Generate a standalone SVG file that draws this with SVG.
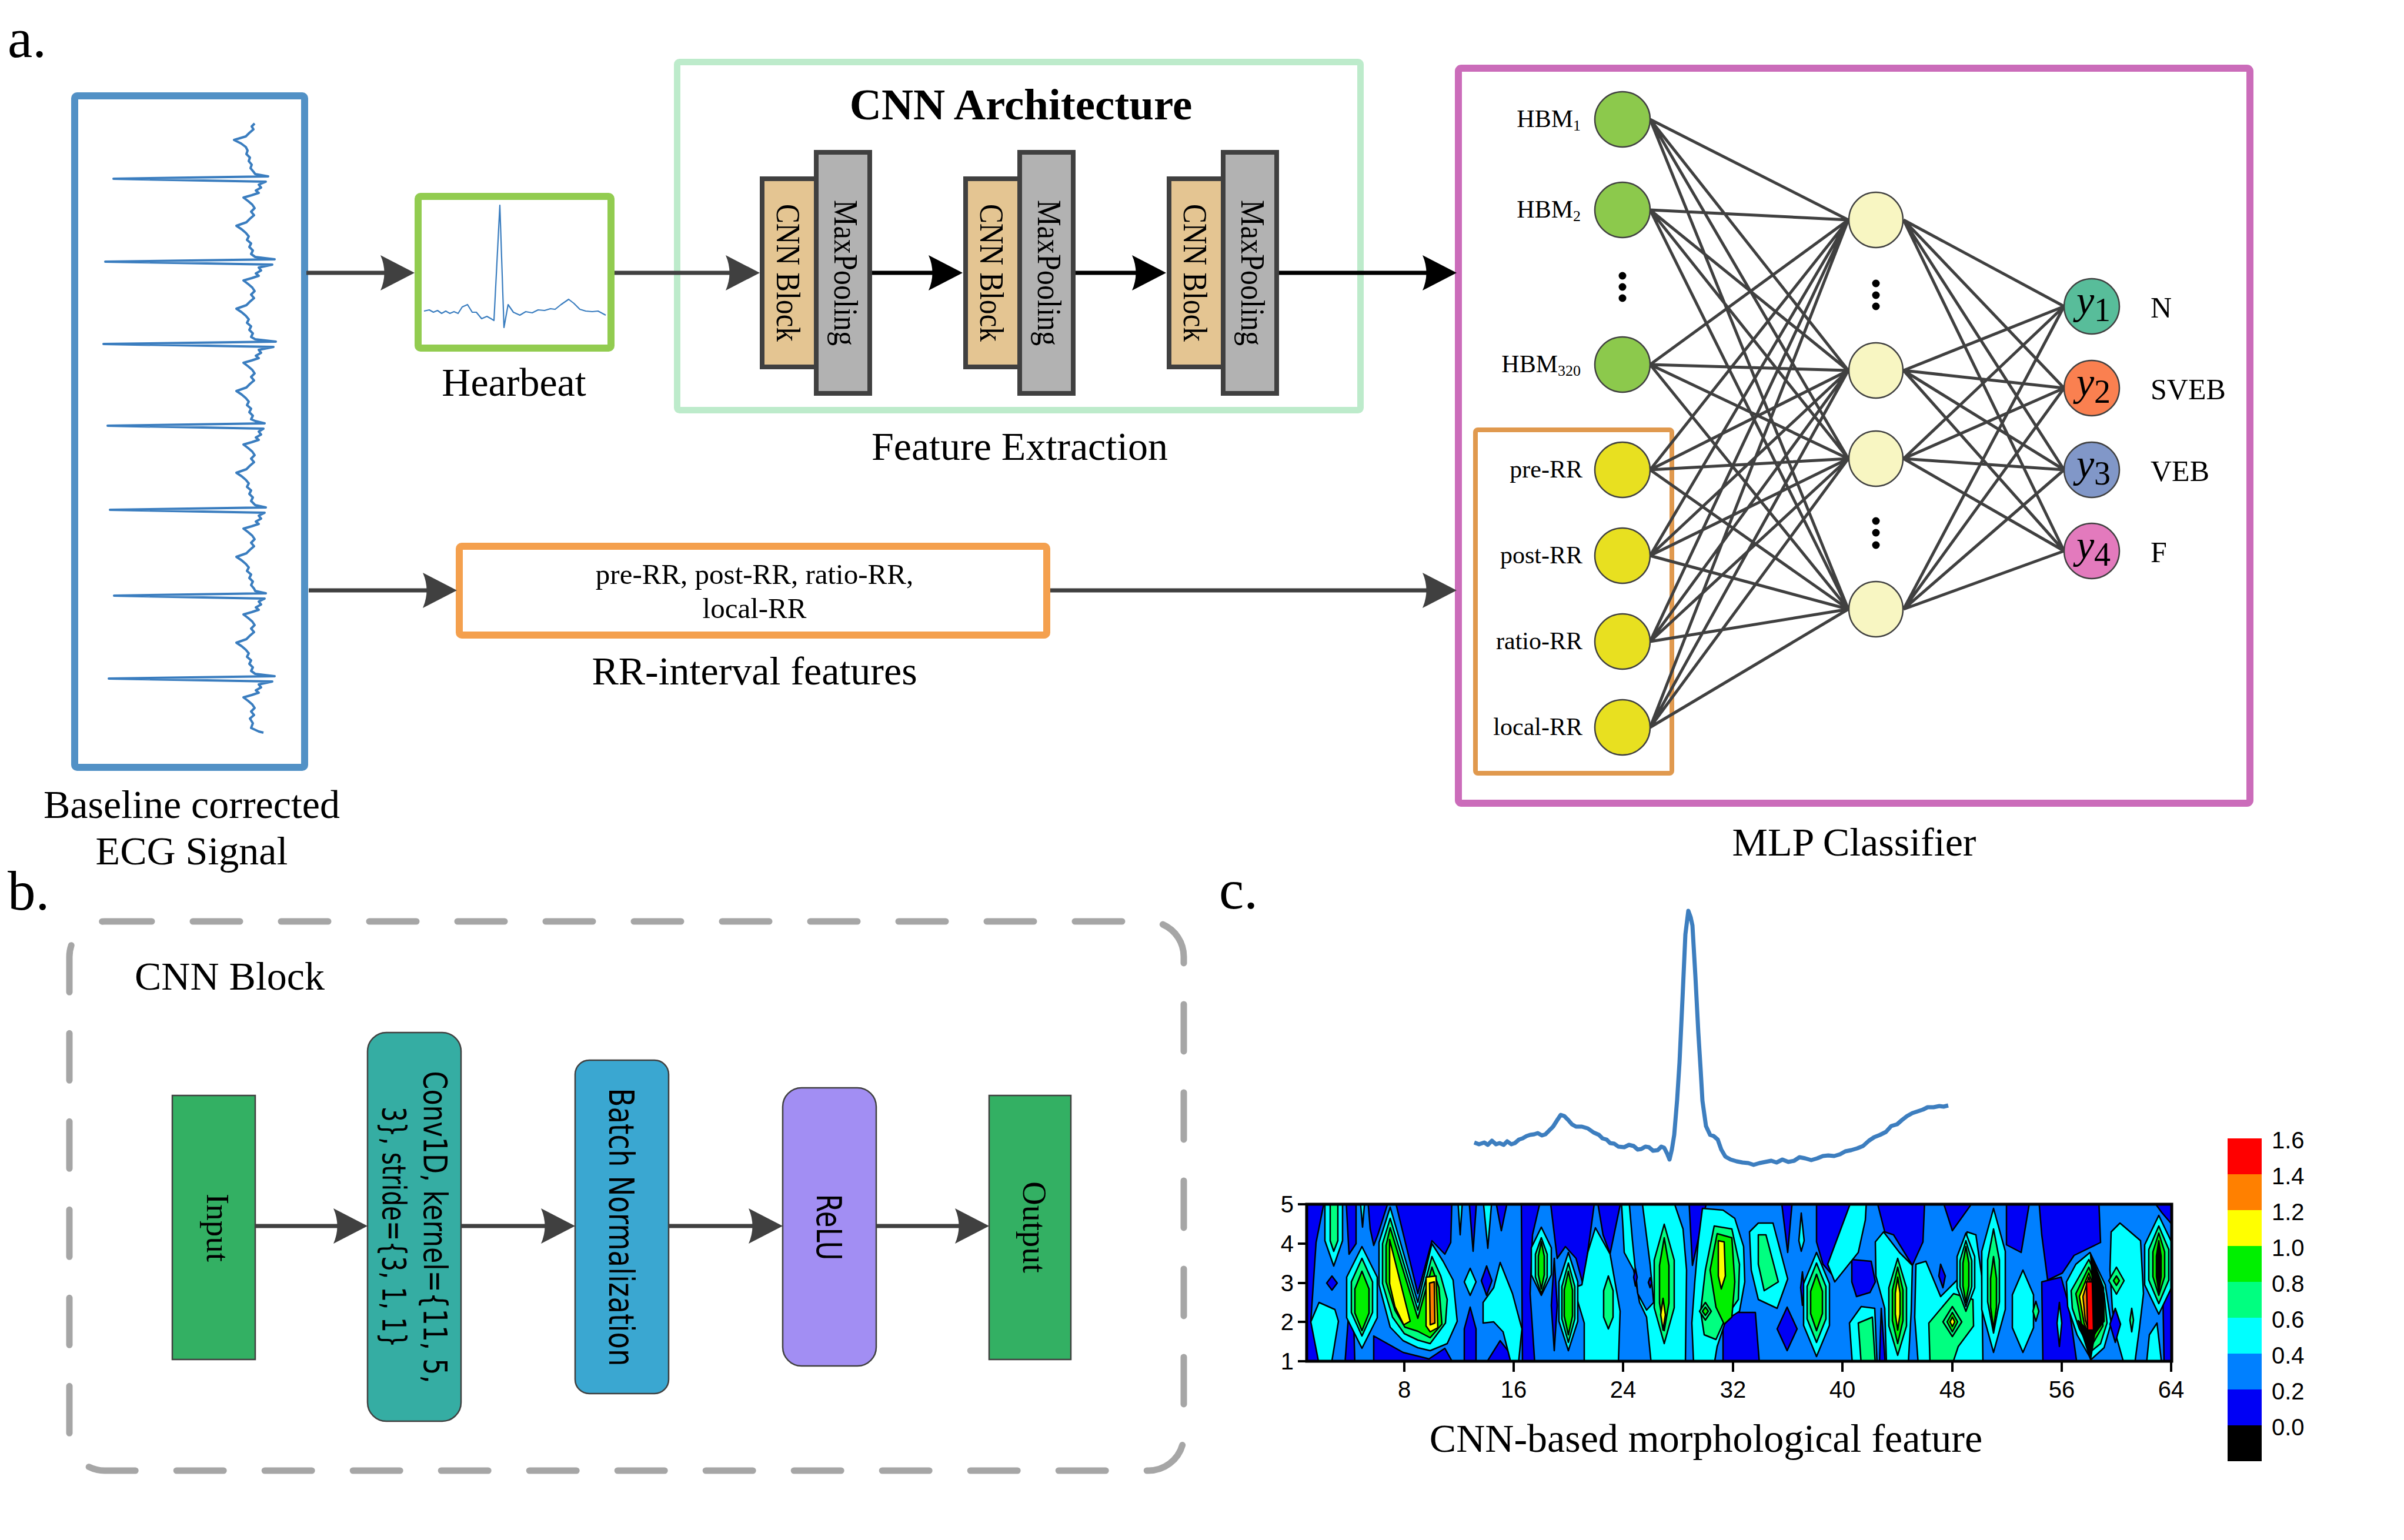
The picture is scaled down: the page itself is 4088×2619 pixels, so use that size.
<svg xmlns="http://www.w3.org/2000/svg" width="4088" height="2619" viewBox="0 0 4088 2619">
<defs>
<style>
.serif{font-family:"Liberation Serif","Times New Roman",serif;fill:#000}
.sans{font-family:"Liberation Sans",Arial,sans-serif;fill:#000}
.geo{font-family:"DejaVu Sans",Verdana,sans-serif;fill:#000}
.ln{stroke:#404040;stroke-width:7;fill:none}
.lk{stroke:#000;stroke-width:7;fill:none}
.edge{stroke:#404040;stroke-width:5;fill:none}
.nd{stroke:#404040;stroke-width:2.5}
.blk{stroke:#404040;stroke-width:8}
.bb{stroke:#404040;stroke-width:2.5}
.c0,.c1,.c2,.c3,.c4,.c5,.c6,.c7,.ck{stroke:#000;stroke-width:2.5;stroke-linejoin:round}
.c0{fill:#0000F5}.c1{fill:#0080FF}.c2{fill:#00FFFF}.c3{fill:#00FF80}.c4{fill:#00F000}.c5{fill:#FFFF00}.c6{fill:#FF8000}.c7{fill:#FF0000}.ck{fill:#000}
</style>
<marker id="ag" markerUnits="userSpaceOnUse" markerWidth="58" markerHeight="60" viewBox="0 0 58 60" refX="42" refY="30" orient="auto"><path d="M0,0 L58,30 L0,60 Q13,30 0,0 Z" fill="#404040"/></marker>
<marker id="ak" markerUnits="userSpaceOnUse" markerWidth="58" markerHeight="60" viewBox="0 0 58 60" refX="42" refY="30" orient="auto"><path d="M0,0 L58,30 L0,60 Q13,30 0,0 Z" fill="#000"/></marker>
<clipPath id="plot"><rect x="2222" y="2048" width="1471" height="268"/></clipPath>
</defs>
<rect width="4088" height="2619" fill="#fff"/>

<text class="serif" x="13" y="97" font-size="95">a.</text>
<text class="serif" x="13" y="1547" font-size="95">b.</text>
<text class="serif" x="2073" y="1545" font-size="95">c.</text>

<g id="ecg-signal">
<rect x="127" y="163" width="391" height="1142" rx="4" fill="none" stroke="#5291C6" stroke-width="12"/>
<polyline fill="none" stroke="#3A7DBF" stroke-width="4" stroke-linejoin="round" points="433,210 428,215 431,220 424,226 418,232 398,238 410,244 418,250 421,256 419,262 425,268 423,274 428,280 426,286 431,292 434,296 456,300 193,304 452,309 440,314 444,319 435,324 440,328 428,332 414,336 422,342 429,348 433,354 427,360 432,366 425,372 419,378 402,384 411,390 418,396 423,402 420,408 427,414 424,420 430,426 427,432 434,437 467,441 179,445 463,450 440,455 444,460 435,465 440,469 428,473 414,477 422,483 429,489 433,495 427,501 432,507 425,513 419,519 402,525 411,531 418,537 423,543 420,549 427,555 424,561 430,567 427,573 434,577 469,581 176,585 465,590 440,595 444,600 435,605 440,609 428,613 414,617 422,623 429,629 433,635 427,641 432,647 425,653 419,659 402,665 411,671 418,677 423,683 420,689 427,695 424,701 430,707 427,713 434,716 450,720 183,724 448,729 440,734 444,739 435,744 440,748 428,752 414,756 422,762 429,768 433,774 427,780 432,786 425,792 419,798 402,804 411,810 418,816 423,822 420,828 427,834 424,840 430,846 427,852 434,859 452,863 187,867 450,872 440,877 444,882 435,887 440,891 428,895 414,899 422,905 429,911 433,917 427,923 432,929 425,935 419,941 402,947 411,953 418,959 423,965 420,971 427,977 424,983 430,989 427,995 432,1001 434,1005 452,1009 194,1013 450,1018 440,1023 444,1028 435,1033 440,1037 428,1041 414,1045 422,1051 429,1057 433,1063 427,1069 432,1075 425,1081 419,1087 402,1093 411,1099 418,1105 423,1111 420,1117 427,1123 424,1129 430,1135 427,1141 434,1146 467,1150 185,1154 463,1159 440,1164 444,1169 435,1174 440,1178 428,1182 414,1186 422,1192 429,1198 433,1204 427,1210 432,1216 425,1222 430,1230 427,1238 440,1244 448,1246"/>
<text class="serif" x="326" y="1391" font-size="68" text-anchor="middle">Baseline corrected</text>
<text class="serif" x="326" y="1470" font-size="68" text-anchor="middle">ECG Signal</text>
</g>

<g id="heartbeat">
<rect x="711" y="334" width="328" height="258" rx="4" fill="none" stroke="#92CC50" stroke-width="12"/>
<polyline fill="none" stroke="#3A7DBF" stroke-width="2.2" stroke-linejoin="round" points="721,529 730,527 737,531 744,528 751,533 758,529 765,533 772,530 779,533 786,522 795,518 803,531 810,531 819,542 828,538 835,542 840,545 850,349 857,557 864,518 873,531 884,536 894,530 905,532 915,527 926,528 936,525 944,526 954,518 967,509 976,516 986,526 996,529 1007,530 1017,529 1030,536"/>
<text class="serif" x="874" y="673" font-size="68" text-anchor="middle">Hearbeat</text>
</g>

<g id="cnn-architecture">
<rect x="1151.5" y="105.5" width="1162" height="592" rx="4" fill="none" stroke="#BDEBCB" stroke-width="11"/>
<text class="serif" x="1736" y="203" font-size="75" font-weight="bold" text-anchor="middle">CNN Architecture</text>
<text class="serif" x="1734" y="782" font-size="68" text-anchor="middle">Feature Extraction</text>
</g>
<g id="cnn-pair-1">
<rect class="blk" x="1296" y="304" width="92" height="320" fill="#E4C592"/>
<rect class="blk" x="1388" y="259" width="91" height="410" fill="#B2B2B2"/>
<text class="serif" font-size="57" text-anchor="middle" textLength="234" lengthAdjust="spacingAndGlyphs" transform="translate(1339,464) rotate(90)" y="18">CNN Block</text>
<text class="serif" font-size="57" text-anchor="middle" textLength="248" lengthAdjust="spacingAndGlyphs" transform="translate(1434,464) rotate(90)" y="15">MaxPooling</text>
</g>
<g id="cnn-pair-2">
<rect class="blk" x="1642" y="304" width="92" height="320" fill="#E4C592"/>
<rect class="blk" x="1734" y="259" width="91" height="410" fill="#B2B2B2"/>
<text class="serif" font-size="57" text-anchor="middle" textLength="234" lengthAdjust="spacingAndGlyphs" transform="translate(1685,464) rotate(90)" y="18">CNN Block</text>
<text class="serif" font-size="57" text-anchor="middle" textLength="248" lengthAdjust="spacingAndGlyphs" transform="translate(1780,464) rotate(90)" y="15">MaxPooling</text>
</g>
<g id="cnn-pair-3">
<rect class="blk" x="1988" y="304" width="92" height="320" fill="#E4C592"/>
<rect class="blk" x="2080" y="259" width="91" height="410" fill="#B2B2B2"/>
<text class="serif" font-size="57" text-anchor="middle" textLength="234" lengthAdjust="spacingAndGlyphs" transform="translate(2031,464) rotate(90)" y="18">CNN Block</text>
<text class="serif" font-size="57" text-anchor="middle" textLength="248" lengthAdjust="spacingAndGlyphs" transform="translate(2126,464) rotate(90)" y="15">MaxPooling</text>
</g>

<g id="rr-features">
<rect x="781" y="929" width="999" height="151" rx="4" fill="none" stroke="#F4A04E" stroke-width="12"/>
<text class="serif" x="1283" y="993" font-size="49" text-anchor="middle">pre-RR, post-RR, ratio-RR,</text>
<text class="serif" x="1283" y="1051" font-size="49" text-anchor="middle">local-RR</text>
<text class="serif" x="1283" y="1164" font-size="68" text-anchor="middle">RR-interval features</text>
</g>

<g id="mlp-classifier">
<rect x="2480" y="116" width="1346" height="1250" rx="5" fill="none" stroke="#CB6CBA" stroke-width="12"/>
<rect x="2509" y="731" width="334" height="584" rx="4" fill="none" stroke="#E0994E" stroke-width="8"/>
<text class="serif" x="3153" y="1455" font-size="68" text-anchor="middle">MLP Classifier</text>
</g>

<g id="connectors">
<line class="ln" x1="521" y1="464" x2="689" y2="464" marker-end="url(#ag)"/>
<line class="ln" x1="1045" y1="464" x2="1276" y2="464" marker-end="url(#ag)"/>
<line class="lk" x1="1483" y1="464" x2="1621" y2="464" marker-end="url(#ak)"/>
<line class="lk" x1="1829" y1="464" x2="1967" y2="464" marker-end="url(#ak)"/>
<line class="lk" x1="2175" y1="464" x2="2461" y2="464" marker-end="url(#ak)"/>
<line class="ln" x1="525" y1="1004" x2="761" y2="1004" marker-end="url(#ag)"/>
<line class="ln" x1="1786" y1="1004" x2="2461" y2="1004" marker-end="url(#ag)"/>
<line class="ln" x1="434" y1="2085" x2="609" y2="2085" marker-end="url(#ag)"/>
<line class="ln" x1="784" y1="2085" x2="962" y2="2085" marker-end="url(#ag)"/>
<line class="ln" x1="1137" y1="2085" x2="1315" y2="2085" marker-end="url(#ag)"/>
<line class="ln" x1="1490" y1="2085" x2="1666" y2="2085" marker-end="url(#ag)"/>
<path class="edge" d="M2806,203 L3143,374 M2806,203 L3143,630 M2806,203 L3143,780 M2806,203 L3143,1036
M2806,357 L3143,374 M2806,357 L3143,630 M2806,357 L3143,780 M2806,357 L3143,1036
M2806,620 L3143,374 M2806,620 L3143,630 M2806,620 L3143,780 M2806,620 L3143,1036
M2806,799 L3143,374 M2806,799 L3143,630 M2806,799 L3143,780 M2806,799 L3143,1036
M2806,945 L3143,374 M2806,945 L3143,630 M2806,945 L3143,780 M2806,945 L3143,1036
M2806,1091 L3143,374 M2806,1091 L3143,630 M2806,1091 L3143,780 M2806,1091 L3143,1036
M2806,1237 L3143,374 M2806,1237 L3143,630 M2806,1237 L3143,780 M2806,1237 L3143,1036
M3237,374 L3510,521 M3237,374 L3510,660 M3237,374 L3510,799 M3237,374 L3510,937
M3237,630 L3510,521 M3237,630 L3510,660 M3237,630 L3510,799 M3237,630 L3510,937
M3237,780 L3510,521 M3237,780 L3510,660 M3237,780 L3510,799 M3237,780 L3510,937
M3237,1036 L3510,521 M3237,1036 L3510,660 M3237,1036 L3510,799 M3237,1036 L3510,937"/>
</g>

<g id="input-nodes">
<circle class="nd" cx="2759" cy="203" r="47" fill="#8CC94C"/>
<circle class="nd" cx="2759" cy="357" r="47" fill="#8CC94C"/>
<circle cx="2759" cy="469" r="6.5" fill="#000"/><circle cx="2759" cy="488" r="6.5" fill="#000"/><circle cx="2759" cy="507" r="6.5" fill="#000"/>
<circle class="nd" cx="2759" cy="620" r="47" fill="#8CC94C"/>
<circle class="nd" cx="2759" cy="799" r="47" fill="#E8E020"/>
<circle class="nd" cx="2759" cy="945" r="47" fill="#E8E020"/>
<circle class="nd" cx="2759" cy="1091" r="47" fill="#E8E020"/>
<circle class="nd" cx="2759" cy="1237" r="47" fill="#E8E020"/>
<text class="serif" x="2688" y="216" font-size="42" text-anchor="end">HBM<tspan font-size="26" dy="6">1</tspan></text>
<text class="serif" x="2688" y="370" font-size="42" text-anchor="end">HBM<tspan font-size="26" dy="6">2</tspan></text>
<text class="serif" x="2688" y="633" font-size="42" text-anchor="end">HBM<tspan font-size="26" dy="6">320</tspan></text>
<text class="serif" x="2691" y="812" font-size="42" text-anchor="end">pre-RR</text>
<text class="serif" x="2691" y="958" font-size="42" text-anchor="end">post-RR</text>
<text class="serif" x="2691" y="1104" font-size="42" text-anchor="end">ratio-RR</text>
<text class="serif" x="2691" y="1250" font-size="42" text-anchor="end">local-RR</text>
</g>
<g id="hidden-nodes">
<ellipse class="nd" cx="3190" cy="374" rx="46" ry="47" fill="#F8F6C2"/>
<circle cx="3190" cy="482" r="6.5" fill="#000"/><circle cx="3190" cy="502" r="6.5" fill="#000"/><circle cx="3190" cy="521" r="6.5" fill="#000"/>
<ellipse class="nd" cx="3190" cy="630" rx="46" ry="47" fill="#F8F6C2"/>
<ellipse class="nd" cx="3190" cy="780" rx="46" ry="47" fill="#F8F6C2"/>
<circle cx="3190" cy="886" r="6.5" fill="#000"/><circle cx="3190" cy="906" r="6.5" fill="#000"/><circle cx="3190" cy="927" r="6.5" fill="#000"/>
<ellipse class="nd" cx="3190" cy="1036" rx="46" ry="47" fill="#F8F6C2"/>
</g>
<g id="output-nodes">
<circle class="nd" cx="3557" cy="521" r="47" fill="#58BD9A"/>
<circle class="nd" cx="3557" cy="660" r="47" fill="#FA8050"/>
<circle class="nd" cx="3557" cy="799" r="47" fill="#8197C8"/>
<circle class="nd" cx="3557" cy="937" r="47" fill="#E37ABD"/>
<text class="serif" x="3560" y="534" text-anchor="middle"><tspan font-size="68" font-style="italic">y</tspan><tspan font-size="56" dy="12">1</tspan></text>
<text class="serif" x="3560" y="673" text-anchor="middle"><tspan font-size="68" font-style="italic">y</tspan><tspan font-size="56" dy="12">2</tspan></text>
<text class="serif" x="3560" y="812" text-anchor="middle"><tspan font-size="68" font-style="italic">y</tspan><tspan font-size="56" dy="12">3</tspan></text>
<text class="serif" x="3560" y="950" text-anchor="middle"><tspan font-size="68" font-style="italic">y</tspan><tspan font-size="56" dy="12">4</tspan></text>
<text class="serif" x="3657" y="540" font-size="50">N</text>
<text class="serif" x="3657" y="679" font-size="50">SVEB</text>
<text class="serif" x="3657" y="818" font-size="50">VEB</text>
<text class="serif" x="3657" y="956" font-size="50">F</text>
</g>

<g id="cnn-block-detail">
<rect x="118" y="1567" width="1895" height="934" rx="60" fill="none" stroke="#A6A6A6" stroke-width="11" stroke-dasharray="80 70" stroke-linecap="round"/>
<text class="serif" x="229" y="1683" font-size="68">CNN Block</text>
</g>
<g id="b-input">
<rect class="bb" x="293" y="1863" width="141" height="449" fill="#33B063"/>
<text class="serif" font-size="55" text-anchor="middle" transform="translate(363,2088) rotate(90)" y="11">Input</text>
</g>
<g id="b-conv">
<rect class="bb" x="625" y="1756" width="159" height="661" rx="32" fill="#35ADA3"/>
<text class="geo" font-size="56" text-anchor="middle" textLength="531" lengthAdjust="spacingAndGlyphs" transform="translate(704,2087) rotate(90)" y="-17">Conv1D, kernel={11, 5,</text>
<text class="geo" font-size="56" text-anchor="middle" textLength="410" lengthAdjust="spacingAndGlyphs" transform="translate(704,2087) rotate(90)" y="53">3}, stride={3, 1, 1}</text>
</g>
<g id="b-batchnorm">
<rect class="bb" x="978" y="1803" width="159" height="567" rx="24" fill="#3AA7D1"/>
<text class="geo" font-size="58" text-anchor="middle" textLength="473" lengthAdjust="spacingAndGlyphs" transform="translate(1057,2087) rotate(90)" y="21">Batch Normalization</text>
</g>
<g id="b-relu">
<rect class="bb" x="1331" y="1850" width="159" height="473" rx="32" fill="#A28EF3"/>
<text class="geo" font-size="58" text-anchor="middle" textLength="113" lengthAdjust="spacingAndGlyphs" transform="translate(1410,2087) rotate(90)" y="21">ReLU</text>
</g>
<g id="b-output">
<rect class="bb" x="1682" y="1863" width="139" height="449" fill="#33B063"/>
<text class="serif" font-size="56" text-anchor="middle" transform="translate(1751,2087) rotate(90)" y="11">Output</text>
</g>

<g id="c-heartbeat">
<polyline fill="none" stroke="#3D7EBF" stroke-width="7" stroke-linejoin="round" points="2507,1943 2515,1946 2524,1943 2530,1947 2537,1940 2544,1946 2550,1944 2557,1947 2563,1941 2570,1946 2576,1944 2583,1938 2589,1936 2596,1932 2602,1930 2609,1929 2615,1927 2622,1931 2628,1929 2635,1922 2641,1916 2648,1905 2654,1896 2660,1898 2667,1905 2673,1912 2680,1916 2690,1916 2700,1919 2710,1926 2719,1930 2725,1936 2732,1938 2738,1944 2745,1945 2752,1950 2762,1951 2770,1947 2778,1949 2785,1955 2791,1954 2798,1950 2804,1951 2811,1957 2819,1956 2825,1950 2830,1952 2835,1962 2839,1972 2843,1955 2847,1930 2852,1870 2856,1807 2861,1700 2866,1589 2871,1549 2875,1560 2878,1574 2883,1660 2888,1756 2892,1820 2895,1872 2901,1915 2908,1930 2914,1932 2921,1938 2927,1955 2934,1967 2943,1972 2953,1975 2963,1977 2973,1978 2982,1981 2992,1978 3002,1976 3012,1974 3021,1977 3031,1972 3041,1976 3051,1974 3060,1968 3070,1970 3080,1973 3090,1970 3100,1966 3109,1965 3119,1966 3129,1963 3138,1958 3148,1956 3158,1953 3168,1949 3178,1940 3187,1934 3197,1930 3207,1925 3216,1915 3226,1912 3234,1905 3243,1898 3252,1893 3261,1890 3270,1887 3278,1883 3288,1883 3298,1881 3305,1882 3313,1880"/>
</g>
<g id="c-contour">
<g clip-path="url(#plot)">
<rect x="2222" y="2048" width="1471" height="268" fill="#0080FF"/>
<polygon class="c0" points="2210,2048 2251,2048 2238,2113 2229,2248 2260,2320 2210,2320"/>
<polygon class="c0" points="2265,2170 2274,2182 2265,2194 2256,2182"/>
<polygon class="c0" points="2289,2040 2306,2040 2306,2115 2294,2133"/>
<polygon class="c0" points="2326,2040 2362,2040 2343,2100 2336,2118 2330,2090"/>
<polygon class="c0" points="2372,2040 2469,2040 2467,2113 2457,2133 2435,2110 2411,2200"/>
<polygon class="c0" points="2336,2272 2386,2300 2430,2311 2457,2293 2472,2320 2336,2320"/>
<polygon class="c0" points="2287,2320 2294,2225 2302,2250 2304,2320"/>
<polygon class="c0" points="2498,2040 2511,2040 2505,2128"/>
<polygon class="c0" points="2543,2040 2564,2040 2553,2093"/>
<polygon class="c0" points="2528,2153 2537,2178 2528,2203 2519,2178"/>
<polygon class="c0" points="2500,2223 2510,2260 2510,2320 2490,2320 2490,2260"/>
<polygon class="c0" points="2551,2280 2582,2320 2526,2320"/>
<polygon class="c0" points="2587,2040 2620,2040 2606,2100 2602,2200 2610,2320 2589,2320"/>
<polygon class="c0" points="2643,2140 2648,2220 2643,2297 2638,2220"/>
<polygon class="c0" points="2636,2040 2712,2040 2704,2100 2692,2185 2680,2140 2662,2120 2648,2140"/>
<polygon class="c0" points="2716,2040 2757,2040 2738,2132 2726,2100"/>
<polygon class="c0" points="2872,2040 2903,2040 2878,2152"/>
<polygon class="c0" points="2930,2232 2985,2232 2992,2320 2930,2320"/>
<polygon class="c0" points="3029,2040 3048,2040 3040,2130"/>
<polygon class="c0" points="3039,2223 3056,2260 3039,2297 3022,2260"/>
<polygon class="c0" points="3089,2040 3151,2040 3149,2107 3119,2172 3100,2150 3089,2112"/>
<polygon class="c0" points="3149,2142 3182,2145 3189,2180 3180,2198 3157,2205 3149,2180"/>
<polygon class="c0" points="3191,2040 3273,2040 3270,2112 3252,2152 3220,2100 3205,2095"/>
<polygon class="c0" points="3199,2225 3206,2320 3196,2320"/>
<polygon class="c0" points="3300,2150 3308,2170 3304,2190 3297,2170"/>
<polygon class="c0" points="3303,2040 3358,2040 3320,2093"/>
<polygon class="c0" points="3412,2040 3452,2040 3437,2130 3412,2117"/>
<polygon class="c0" points="3467,2040 3569,2040 3572,2113 3527,2135 3507,2165 3482,2177 3472,2100"/>
<polygon class="c0" points="3472,2180 3505,2172 3518,2220 3532,2320 3474,2320"/>
<polygon class="c0" points="3660,2040 3700,2040 3700,2090 3676,2062"/>
<polygon class="c0" points="3678,2200 3700,2190 3700,2320 3680,2320"/>
<polygon class="c2" points="2253,2040 2283,2040 2283,2110 2268,2153 2253,2110"/>
<polygon class="c3" points="2262,2040 2275,2040 2275,2110 2268,2128 2262,2110"/>
<polygon class="c2" points="2243,2215 2270,2227 2276,2247 2264,2320 2243,2320 2229,2248"/>
<polygon class="c2" points="2316,2120 2342,2172 2342,2241 2316,2293 2290,2241 2290,2172"/>
<polygon class="c3" points="2316,2140 2334,2180 2334,2232 2316,2272 2298,2232 2298,2180"/>
<polygon class="c4" points="2316,2162 2328,2192 2328,2233 2316,2263 2304,2233 2304,2192"/>
<polygon class="c2" points="2313,2040 2321,2040 2317,2087"/>
<polygon class="c2" points="2364,2053 2411,2215 2435,2115 2454,2145 2471,2177 2478,2247 2461,2285 2432,2297 2411,2292 2386,2280 2364,2257 2345,2185 2345,2113"/>
<polygon class="c3" points="2364,2072 2411,2228 2435,2137 2450,2170 2461,2210 2458,2250 2432,2285 2411,2279 2388,2268 2368,2240 2351,2183 2351,2115"/>
<polygon class="c4" points="2364,2088 2411,2242 2435,2155 2447,2190 2452,2252 2432,2275 2411,2264 2389,2257 2372,2228 2357,2180 2357,2118"/>
<polygon class="c5" points="2363,2108 2398,2247 2387,2253 2372,2222 2363,2183"/>
<polygon class="c5" points="2425,2172 2442,2170 2445,2258 2432,2265 2425,2255"/>
<polygon class="c6" points="2431,2182 2439,2180 2440,2250 2432,2253"/>
<polygon class="c2" points="2479,2040 2487,2040 2483,2100"/>
<polygon class="c2" points="2522,2040 2537,2040 2530,2123"/>
<polygon class="c2" points="2500,2157 2510,2180 2500,2203 2490,2180"/>
<polygon class="c2" points="2551,2147 2572,2200 2588,2260 2582,2320 2570,2320 2556,2265 2540,2248 2522,2250 2522,2215 2540,2190"/>
<polygon class="c2" points="2621,2087 2638,2122 2638,2168 2621,2203 2604,2168 2604,2122"/>
<polygon class="c3" points="2621,2105 2631,2133 2631,2172 2621,2200 2611,2172 2611,2133"/>
<polygon class="c4" points="2621,2112 2626,2136 2626,2168 2621,2192 2616,2168 2616,2136"/>
<polygon class="c2" points="2713,2088 2738,2133 2755,2230 2752,2320 2694,2320 2694,2250 2676,2190 2690,2185 2700,2130"/>
<polygon class="c2" points="2667,2130 2683,2180 2683,2247 2667,2297 2651,2247 2651,2180"/>
<polygon class="c3" points="2667,2148 2678,2188 2678,2243 2667,2283 2656,2243 2656,2188"/>
<polygon class="c4" points="2667,2162 2674,2194 2674,2238 2667,2270 2660,2238 2660,2194"/>
<polygon class="c3" points="2735,2170 2743,2195 2743,2240 2735,2260 2727,2240 2727,2195"/>
<polygon class="c2" points="2757,2040 2845,2040 2862,2090 2868,2160 2866,2320 2808,2320 2800,2240 2788,2215 2778,2160 2762,2130 2760,2090"/>
<polygon class="c1" points="2770,2040 2792,2040 2806,2150 2812,2215 2800,2228 2785,2200 2776,2110"/>
<polygon class="c0" points="2781,2157 2784,2172 2781,2187 2778,2172"/>
<polygon class="c0" points="2806,2173 2809,2181 2806,2190 2803,2181"/>
<polygon class="c3" points="2830,2082 2847,2143 2847,2224 2830,2285 2813,2224 2813,2143"/>
<polygon class="c4" points="2830,2105 2838,2152 2838,2216 2830,2263 2822,2216 2822,2152"/>
<polygon class="c5" points="2828,2208 2832,2236 2828,2262 2824,2236"/>
<polygon class="c2" points="2895,2055 2930,2058 2950,2072 2965,2120 2967,2180 2958,2230 2935,2245 2920,2290 2915,2320 2880,2320 2877,2250 2882,2180 2888,2110"/>
<polygon class="c3" points="2915,2085 2945,2090 2958,2150 2956,2210 2935,2240 2918,2278 2898,2270 2892,2230 2900,2160"/>
<polygon class="c4" points="2920,2098 2945,2105 2950,2180 2945,2240 2932,2252 2918,2223 2908,2160"/>
<polygon class="c5" points="2922,2110 2932,2112 2934,2170 2927,2192 2922,2170"/>
<polygon class="c3" points="2900,2215 2910,2230 2900,2245 2890,2230"/>
<polygon class="c4" points="2900,2223 2905,2230 2900,2237 2895,2230"/>
<polygon class="c2" points="2975,2095 2990,2080 3015,2080 3040,2175 3022,2225 2990,2210 2978,2160"/>
<polygon class="c3" points="2990,2100 3003,2100 3024,2180 3000,2195 2990,2150"/>
<polygon class="c2" points="3063,2063 3068,2110 3063,2128 3059,2110"/>
<polygon class="c0" points="3065,2163 3068,2190 3065,2220 3062,2190"/>
<polygon class="c2" points="3149,2040 3174,2040 3172,2075 3160,2130 3120,2180 3108,2150"/>
<polygon class="c2" points="3089,2130 3111,2183 3111,2254 3089,2307 3067,2254 3067,2183"/>
<polygon class="c3" points="3089,2148 3105,2188 3105,2243 3089,2283 3073,2243 3073,2188"/>
<polygon class="c4" points="3089,2167 3099,2196 3099,2234 3089,2263 3079,2234 3079,2196"/>
<polygon class="c2" points="3189,2112 3203,2095 3230,2130 3252,2152 3250,2230 3245,2320 3208,2320 3205,2225 3190,2170"/>
<polygon class="c3" points="3227,2140 3242,2190 3242,2255 3227,2305 3212,2255 3212,2190"/>
<polygon class="c4" points="3227,2155 3236,2194 3236,2246 3227,2285 3218,2246 3218,2194"/>
<polygon class="c5" points="3227,2172 3231,2199 3231,2235 3227,2262 3223,2235 3223,2199"/>
<polygon class="c2" points="3145,2250 3165,2222 3188,2225 3192,2320 3150,2320"/>
<polygon class="c3" points="3160,2250 3184,2240 3189,2320 3165,2320"/>
<polygon class="c2" points="3258,2150 3275,2145 3300,2205 3330,2175 3345,2095 3360,2100 3370,2170 3372,2320 3262,2320 3256,2240"/>
<polygon class="c3" points="3280,2250 3322,2200 3355,2210 3356,2255 3330,2290 3320,2320 3282,2320"/>
<polygon class="c3" points="3320,2222 3336,2248 3320,2273 3304,2248"/>
<polygon class="c4" points="3320,2232 3329,2248 3320,2265 3311,2248"/>
<polygon class="c5" points="3320,2240 3324,2248 3320,2256 3316,2248"/>
<polygon class="c2" points="3343,2097 3358,2137 3358,2190 3343,2230 3328,2190 3328,2137"/>
<polygon class="c3" points="3343,2110 3353,2144 3353,2188 3343,2222 3333,2188 3333,2144"/>
<polygon class="c4" points="3343,2120 3348,2148 3348,2187 3343,2215 3338,2187 3338,2148"/>
<polygon class="c2" points="3390,2055 3410,2128 3410,2227 3390,2300 3370,2227 3370,2128"/>
<polygon class="c3" points="3390,2090 3400,2143 3400,2214 3390,2267 3380,2214 3380,2143"/>
<polygon class="c4" points="3390,2137 3395,2174 3395,2223 3390,2260 3385,2223 3385,2174"/>
<polygon class="c2" points="3440,2160 3458,2202 3458,2258 3440,2300 3422,2258 3422,2202"/>
<polygon class="c3" points="3462,2213 3467,2230 3462,2247 3457,2230"/>
<polygon class="c2" points="3502,2215 3506,2250 3502,2290 3498,2250"/>
<polygon class="c2" points="3514,2180 3530,2150 3554,2130 3580,2185 3590,2250 3578,2292 3556,2312 3532,2270 3516,2222"/>
<polygon class="c3" points="3522,2195 3552,2142 3578,2200 3583,2250 3572,2285 3556,2298 3536,2260 3524,2225"/>
<polygon class="c4" points="3530,2200 3552,2155 3574,2210 3576,2255 3556,2290 3540,2255"/>
<polygon class="c5" points="3536,2205 3552,2165 3570,2215 3570,2255 3556,2280 3544,2250"/>
<polygon class="c6" points="3542,2205 3552,2172 3566,2220 3565,2258 3555,2272 3546,2245"/>
<polygon class="ck" points="3555,2133 3577,2190 3578,2247 3562,2268 3555,2312 3534,2246 3550,2262 3558,2175"/>
<polygon class="c7" points="3548,2180 3558,2180 3560,2262 3550,2262"/>
<polygon class="c2" points="3590,2095 3605,2080 3640,2110 3645,2200 3638,2260 3630,2320 3612,2320 3598,2270 3592,2225 3588,2160"/>
<polygon class="c0" points="3597,2225 3606,2252 3597,2283 3588,2252"/>
<polygon class="c3" points="3599,2155 3612,2178 3599,2201 3586,2178"/>
<polygon class="c4" points="3599,2170 3604,2178 3599,2186 3594,2178"/>
<polygon class="c3" points="3625,2225 3628,2245 3625,2265 3622,2245"/>
<polygon class="c2" points="3671,2067 3695,2117 3695,2185 3671,2235 3647,2185 3647,2117"/>
<polygon class="c3" points="3671,2085 3688,2125 3688,2177 3671,2217 3654,2177 3654,2125"/>
<polygon class="c4" points="3671,2097 3681,2129 3681,2171 3671,2203 3661,2171 3661,2129"/>
<polygon class="ck" points="3671,2110 3675,2136 3675,2171 3671,2197 3667,2171 3667,2136"/>
<polygon class="c2" points="3655,2270 3668,2250 3676,2320 3650,2320"/>
</g>
<rect x="2222" y="2048" width="1471" height="267" fill="none" stroke="#000" stroke-width="5"/>
<path d="M2207,2048 H2222 M2207,2115 H2222 M2207,2182 H2222 M2207,2248 H2222 M2207,2315 H2222 M2388,2315 V2333 M2574,2315 V2333 M2760,2315 V2333 M2947,2315 V2333 M3133,2315 V2333 M3320,2315 V2333 M3506,2315 V2333 M3692,2315 V2333" stroke="#000" stroke-width="4"/>
<g class="sans" font-size="40" text-anchor="end">
<text x="2200" y="2062">5</text><text x="2200" y="2129">4</text><text x="2200" y="2196">3</text><text x="2200" y="2262">2</text><text x="2200" y="2329">1</text>
</g>
<g class="sans" font-size="40" text-anchor="middle">
<text x="2388" y="2377">8</text><text x="2574" y="2377">16</text><text x="2760" y="2377">24</text><text x="2947" y="2377">32</text><text x="3133" y="2377">40</text><text x="3320" y="2377">48</text><text x="3506" y="2377">56</text><text x="3692" y="2377">64</text>
</g>
<text class="serif" x="2901" y="2469" font-size="68" text-anchor="middle">CNN-based morphological feature</text>
</g>
<g id="c-colorbar">
<rect x="3788" y="1936" width="58" height="61" fill="#FF0000"/>
<rect x="3788" y="1997" width="58" height="61" fill="#FF8000"/>
<rect x="3788" y="2058" width="58" height="61" fill="#FFFF00"/>
<rect x="3788" y="2119" width="58" height="61" fill="#00F000"/>
<rect x="3788" y="2180" width="58" height="61" fill="#00FF80"/>
<rect x="3788" y="2241" width="58" height="61" fill="#00FFFF"/>
<rect x="3788" y="2302" width="58" height="61" fill="#0080FF"/>
<rect x="3788" y="2363" width="58" height="61" fill="#0000F5"/>
<rect x="3788" y="2424" width="58" height="61" fill="#000"/>
<g class="sans" font-size="40">
<text x="3863" y="1953">1.6</text><text x="3863" y="2014">1.4</text><text x="3863" y="2075">1.2</text><text x="3863" y="2136">1.0</text><text x="3863" y="2197">0.8</text><text x="3863" y="2258">0.6</text><text x="3863" y="2319">0.4</text><text x="3863" y="2380">0.2</text><text x="3863" y="2441">0.0</text>
</g>
</g>
</svg>
